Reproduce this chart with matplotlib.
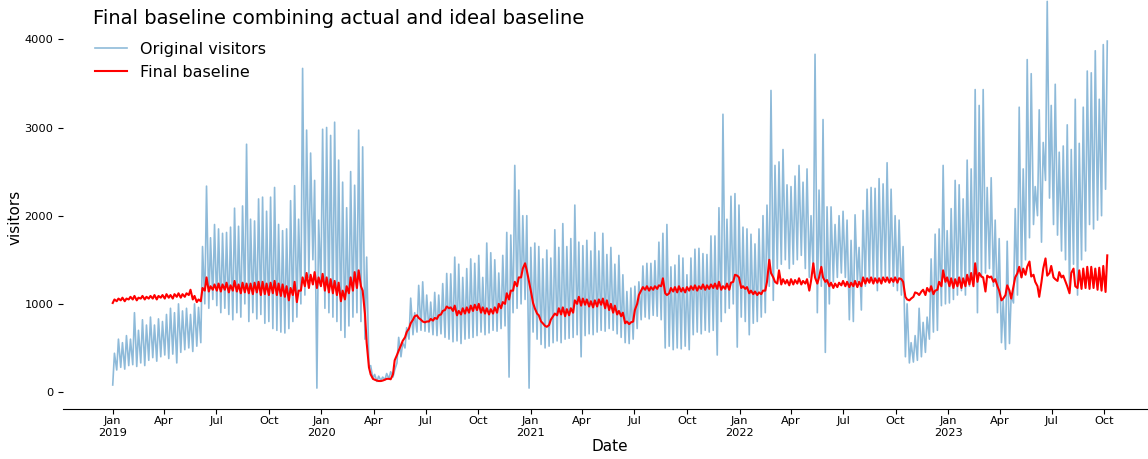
import matplotlib

matplotlib.use("Agg")
import matplotlib.pyplot as plt
import matplotlib.dates as mdates
import numpy as np
import pandas as pd

# weekly readings: first value = weekday trough, second = weekly spike
visitors_low_2019 = [80, 250, 280, 260, 300, 310, 290, 330, 300, 360, 390, 350, 400,
                     420, 380, 430, 330, 450, 480, 500, 460, 520, 560, 1000, 950, 1050,
                     980, 900, 950, 880, 820, 900, 850, 1000, 800, 900, 830, 880, 780,
                     800, 720, 700, 680, 670, 720, 800, 850, 1000, 1100, 1300, 1500, 45]
visitors_peak_2019 = [440, 600, 560, 640, 600, 900, 700, 820, 760, 850, 760, 830, 800,
                      880, 950, 900, 1000, 920, 950, 880, 1000, 960, 1650, 2335, 1750, 1900,
                      1850, 1800, 1810, 1870, 2085, 1880, 2110, 2810, 1960, 1940, 2190, 2210, 2050,
                      2210, 2320, 1900, 1830, 1850, 2170, 2340, 1960, 3670, 2970, 2710, 2400, 1950]
visitors_low_2020 = [1200, 950, 900, 850, 800, 700, 620, 750, 850, 900, 800, 600, 280,
                     150, 120, 130, 140, 150, 170, 330, 400, 500, 600, 650, 680, 700,
                     690, 680, 650, 640, 660, 620, 600, 570, 580, 550, 600, 610, 620,
                     640, 680, 650, 670, 700, 690, 720, 750, 170, 900, 950, 1000, 1050]
visitors_peak_2020 = [2980, 3000, 2910, 3060, 2630, 2380, 2090, 2500, 2345, 2970, 2780, 1530, 300,
                      200, 180, 170, 210, 230, 250, 620, 560, 730, 1065, 900, 1210, 1250,
                      1100, 1020, 1130, 1100, 1230, 1345, 1340, 1530, 1450, 1300, 1400, 1510, 1460,
                      1550, 1300, 1690, 1580, 1500, 1350, 1550, 1810, 1780, 2570, 2290, 2000, 2000]
visitors_low_2021 = [45, 680, 600, 540, 500, 520, 560, 580, 560, 600, 610, 620, 650,
                     400, 640, 660, 650, 680, 700, 690, 720, 700, 660, 620, 560, 550,
                     600, 720, 820, 850, 830, 870, 860, 820, 500, 520, 480, 500, 490,
                     520, 480, 650, 680, 660, 700, 680, 700, 420, 800, 900, 950, 1000]
visitors_peak_2021 = [1640, 1690, 1650, 1510, 1610, 1520, 1840, 1640, 1910, 1650, 1740, 2120, 1700,
                      1660, 1720, 1600, 1810, 1600, 1800, 1560, 1640, 1450, 1550, 1330, 1140, 1180,
                      1200, 1250, 1430, 1460, 1460, 1490, 1700, 1800, 1900, 1420, 1440, 1550, 1520,
                      1330, 1520, 1620, 1630, 1570, 1560, 1770, 1770, 2090, 3150, 1960, 2220, 2250]
visitors_low_2022 = [510, 850, 800, 650, 780, 800, 850, 900, 1200, 1040, 1400, 1450, 1500,
                     1400, 1450, 1500, 1550, 1400, 1300, 1350, 900, 1200, 450, 1000, 1250, 1300,
                     1350, 1300, 820, 800, 1250, 930, 1200, 1250, 1280, 1150, 1250, 1300, 1250,
                     1200, 1150, 1100, 400, 330, 340, 360, 400, 450, 600, 680, 700, 980]
visitors_peak_2022 = [2120, 1870, 1850, 1790, 1680, 1850, 2000, 2120, 3420, 2570, 2610, 2750, 2350,
                      2330, 2450, 2570, 2380, 2530, 2000, 3830, 2290, 3090, 2100, 2100, 1900, 2000,
                      2050, 1950, 1720, 2010, 1640, 2060, 2300, 2320, 2310, 2420, 2360, 2600, 2300,
                      2000, 1950, 1650, 1000, 560, 640, 950, 790, 850, 1510, 1790, 1850, 2570]
visitors_low_2023 = [1000, 1010, 1050, 1100, 1150, 1100, 1200, 1230, 900, 1300, 1350, 1400, 1200,
                     900, 560, 485, 550, 1010, 1100, 1300, 1500, 1750, 1900, 2000, 1700, 2400,
                     2200, 1900, 1780, 1600, 1500, 1150, 1450, 1100, 1500, 1600, 1900, 1850, 1950,
                     2000, 2300]
visitors_peak_2023 = [1830, 2080, 2400, 2350, 2190, 2630, 2530, 3430, 3250, 3430, 2320, 2430, 1950,
                      1740, 1040, 1710, 1100, 2080, 3230, 2530, 3770, 3610, 2330, 3200, 2830, 4430,
                      3250, 3490, 2720, 2790, 3030, 2750, 3320, 2820, 3230, 3640, 3620, 3870, 3320,
                      3940, 3980]

# final baseline, two readings per week in time order
baseline_a_2019 = [1010, 1030, 1040, 1030, 1050, 1050, 1040, 1060, 1050, 1060, 1060, 1050, 1070,
                   1060, 1070, 1060, 1080, 1070, 1080, 1100, 1050, 1020, 1030, 1150, 1140, 1160,
                   1150, 1140, 1160, 1130, 1150, 1140, 1120, 1130, 1120, 1110, 1130, 1100, 1110,
                   1100, 1120, 1100, 1090, 1080, 1040, 1100, 1020, 1150, 1200, 1180, 1220, 1180]
baseline_b_2019 = [1050, 1060, 1070, 1060, 1080, 1090, 1070, 1090, 1080, 1090, 1100, 1090, 1100,
                   1110, 1100, 1110, 1120, 1110, 1120, 1160, 1090, 1050, 1180, 1300, 1200, 1220,
                   1230, 1220, 1240, 1210, 1260, 1220, 1240, 1230, 1230, 1240, 1250, 1250, 1230,
                   1240, 1260, 1230, 1220, 1200, 1180, 1250, 1150, 1300, 1350, 1330, 1360, 1300]
baseline_a_2020 = [1200, 1150, 1130, 1120, 1100, 1030, 1050, 1120, 1150, 1180, 1200, 890, 280,
                   150, 130, 125, 140, 150, 200, 420, 530, 620, 720, 820, 870, 820,
                   790, 800, 810, 830, 880, 930, 950, 920, 870, 880, 890, 900, 920,
                   930, 900, 890, 880, 890, 900, 950, 1000, 1050, 1150, 1200, 1300, 1460]
baseline_b_2020 = [1340, 1300, 1280, 1260, 1240, 1150, 1200, 1300, 1360, 1380, 1150, 560, 200,
                   140, 125, 130, 150, 145, 360, 470, 580, 680, 780, 860, 840, 800,
                   800, 830, 840, 870, 920, 970, 960, 980, 920, 950, 960, 980, 990,
                   1000, 960, 950, 940, 960, 1000, 1020, 1120, 1150, 1250, 1300, 1400, 1380]
baseline_a_2021 = [1250, 1010, 890, 800, 750, 760, 860, 870, 880, 860, 870, 900, 1000,
                   980, 990, 970, 960, 970, 990, 950, 930, 900, 880, 860, 780, 770,
                   800, 1000, 1150, 1160, 1150, 1160, 1170, 1200, 1120, 1120, 1140, 1130, 1140,
                   1130, 1150, 1160, 1150, 1170, 1160, 1170, 1180, 1170, 1160, 1170, 1160, 1250]
baseline_b_2021 = [1150, 950, 870, 780, 740, 820, 890, 950, 960, 940, 950, 1040, 1080,
                   1060, 1050, 1030, 1040, 1050, 1060, 1040, 1000, 980, 920, 900, 800, 790,
                   930, 1100, 1190, 1200, 1190, 1200, 1210, 1290, 1100, 1180, 1190, 1200, 1180,
                   1190, 1200, 1210, 1200, 1220, 1210, 1220, 1230, 1250, 1200, 1230, 1240, 1330]
baseline_a_2022 = [1320, 1180, 1170, 1120, 1110, 1100, 1110, 1150, 1500, 1300, 1230, 1220, 1230,
                   1210, 1220, 1230, 1220, 1230, 1150, 1460, 1230, 1420, 1250, 1200, 1180, 1190,
                   1210, 1200, 1190, 1200, 1190, 1200, 1230, 1240, 1230, 1240, 1230, 1250, 1240,
                   1250, 1240, 1280, 1080, 1040, 1080, 1120, 1140, 1100, 1140, 1110, 1160, 1200]
baseline_b_2022 = [1300, 1200, 1190, 1150, 1140, 1130, 1150, 1250, 1350, 1250, 1380, 1280, 1270,
                   1280, 1270, 1290, 1260, 1280, 1260, 1300, 1300, 1300, 1270, 1240, 1230, 1240,
                   1260, 1250, 1240, 1260, 1250, 1300, 1290, 1300, 1290, 1290, 1300, 1300, 1290,
                   1300, 1290, 1250, 1050, 1060, 1130, 1100, 1160, 1180, 1200, 1150, 1250, 1380]
baseline_a_2023 = [1250, 1200, 1180, 1200, 1180, 1200, 1220, 1200, 1250, 1310, 1140, 1300, 1250,
                   1200, 1040, 1100, 1150, 1200, 1350, 1300, 1330, 1480, 1330, 1200, 1250, 1515,
                   1350, 1300, 1260, 1300, 1250, 1120, 1400, 1180, 1170, 1180, 1170, 1180, 1160,
                   1150, 1135]
baseline_b_2023 = [1300, 1290, 1280, 1300, 1290, 1330, 1350, 1460, 1350, 1300, 1320, 1310, 1280,
                   1150, 1060, 1210, 1060, 1300, 1420, 1400, 1420, 1310, 1250, 1080, 1400, 1320,
                   1430, 1280, 1360, 1320, 1200, 1350, 1200, 1380, 1400, 1420, 1420, 1400, 1410,
                   1430, 1550]

start = pd.Timestamp("2019-01-01")


def interleave(first, second):
    n = len(first)
    week_start = start + pd.to_timedelta(np.arange(n) * 7, unit="D")
    dates = np.empty(2 * n, dtype="datetime64[ns]")
    dates[0::2] = week_start.values
    dates[1::2] = (week_start + pd.Timedelta(days=3)).values
    vals = np.empty(2 * n)
    vals[0::2] = first
    vals[1::2] = second
    return dates, vals


v_low = visitors_low_2019 + visitors_low_2020 + visitors_low_2021 + visitors_low_2022 + visitors_low_2023
v_peak = visitors_peak_2019 + visitors_peak_2020 + visitors_peak_2021 + visitors_peak_2022 + visitors_peak_2023
b_a = baseline_a_2019 + baseline_a_2020 + baseline_a_2021 + baseline_a_2022 + baseline_a_2023
b_b = baseline_b_2019 + baseline_b_2020 + baseline_b_2021 + baseline_b_2022 + baseline_b_2023

d_vis, visitors = interleave(v_low, v_peak)
d_base, baseline = interleave(b_a, b_b)

fig = plt.figure(figsize=(11.48, 4.59), dpi=100)
W, H = 1148, 459
ax = fig.add_axes([63 / W, (H - 408.8) / H, 1094 / W, (408.8 + 18) / H])

ax.plot(d_vis, visitors, color="#1f77b4", alpha=0.5, lw=1.2, label="Original visitors")
ax.plot(d_base, baseline, color="red", lw=1.5, label="Final baseline")

ax.set_ylim(-190, 4650)
ax.set_yticks([0, 1000, 2000, 3000, 4000])

ax.xaxis.set_major_locator(mdates.MonthLocator(bymonth=[1, 4, 7, 10]))


def fmt(x, pos=None):
    d = mdates.num2date(x)
    if d.month == 1:
        return d.strftime("%b\n%Y")
    return d.strftime("%b")


ax.xaxis.set_major_formatter(plt.FuncFormatter(fmt))
ax.tick_params(labelsize=8.2)
ax.tick_params(axis="x", pad=2)

for s in ["top", "right", "left"]:
    ax.spines[s].set_visible(False)

ax.set_xlabel("Date", fontsize=11, labelpad=0.5)
fig.text(15 / W, 1 - 217 / H, "visitors", rotation=90, fontsize=11, ha="center", va="center")

ax.legend(loc="upper left", bbox_to_anchor=(95 / W, 1 - 42 / H), bbox_transform=fig.transFigure,
          frameon=False, borderpad=0, borderaxespad=0, fontsize=11.5)
fig.text(93 / W, 1 - 18 / H, "Final baseline combining actual and ideal baseline", fontsize=14,
         ha="left", va="center")

fig.savefig("out.png", dpi=100)
